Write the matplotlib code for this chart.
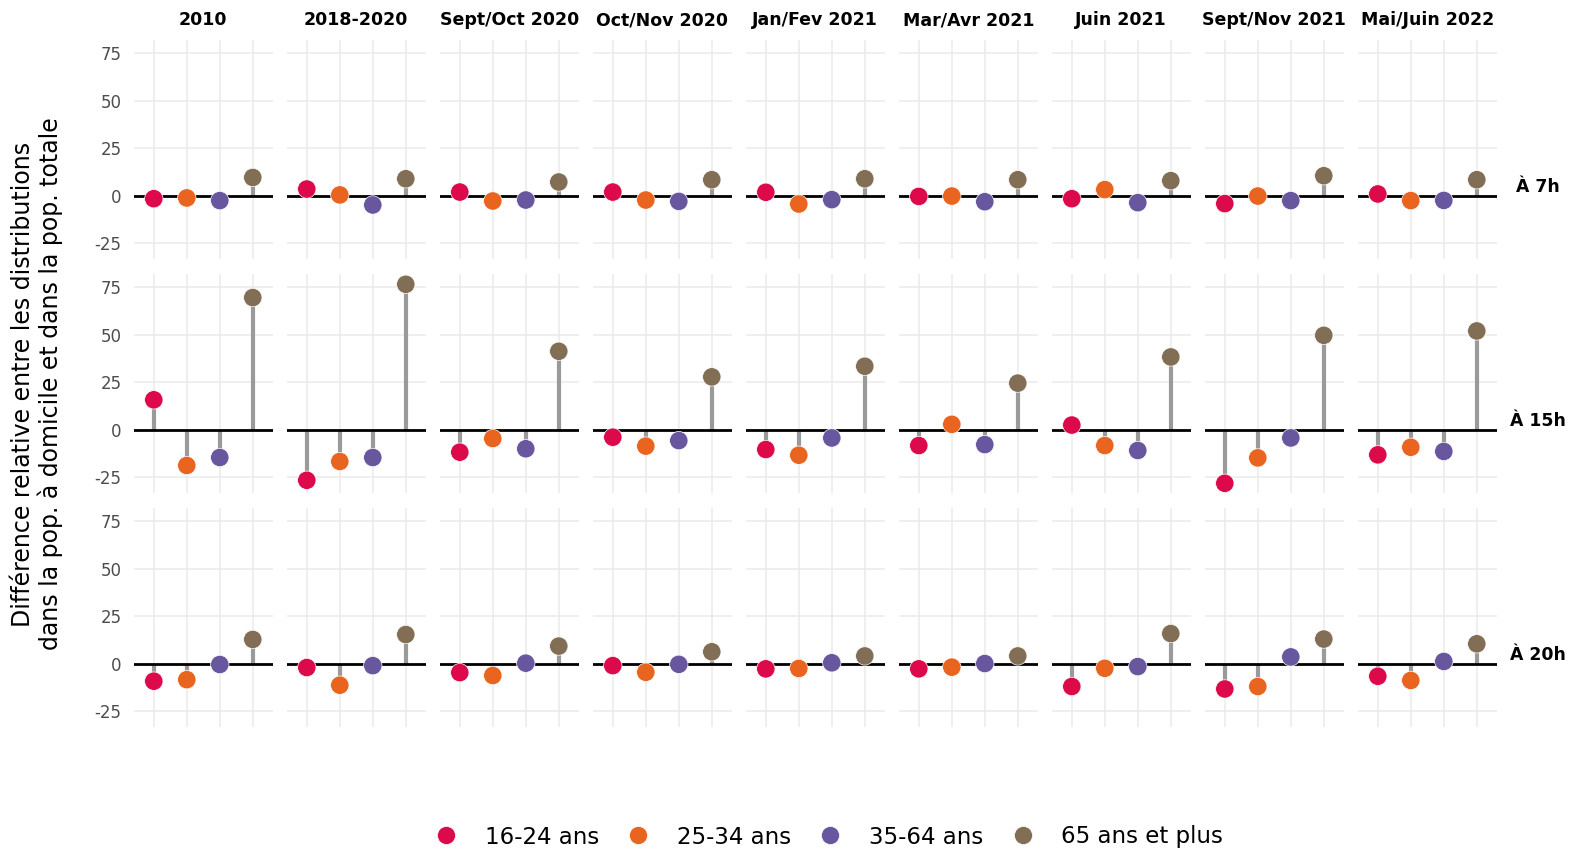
#!/usr/bin/env python3
"""
Lollipop facets: relative difference between age distributions of the
population at home and the total population, by period and time of day.
Output: out.png
"""

import matplotlib
matplotlib.use("Agg")
import matplotlib.pyplot as plt
from matplotlib.lines import Line2D
from matplotlib.transforms import blended_transform_factory

plt.rcParams["axes.unicode_minus"] = False

PERIODS = [
    "2010",
    "2018-2020",
    "Sept/Oct 2020",
    "Oct/Nov 2020",
    "Jan/Fev 2021",
    "Mar/Avr 2021",
    "Juin 2021",
    "Sept/Nov 2021",
    "Mai/Juin 2022",
]
AGES   = ["16-24 ans", "25-34 ans", "35-64 ans", "65 ans et plus"]
COLORS = ["#DC0A4B", "#E9641E", "#68569F", "#826E55"]
HOURS  = ["À 7h", "À 15h", "À 20h"]

# one row per period: [16-24, 25-34, 35-64, 65+]
VALUES_7H = [
    [-1.6, -1.2, -2.6,  9.6],
    [ 3.5,  0.4, -4.9,  8.9],
    [ 1.9, -2.8, -2.3,  7.2],
    [ 1.9, -2.3, -3.0,  8.4],
    [ 1.8, -4.4, -2.1,  8.9],
    [-0.4, -0.2, -3.2,  8.4],
    [-1.6,  3.2, -3.7,  7.9],
    [-4.2, -0.2, -2.6, 10.5],
    [ 0.9, -2.6, -2.5,  8.4],
]
VALUES_15H = [
    [ 15.7, -18.9, -14.7, 69.6],
    [-26.7, -16.8, -14.7, 76.6],
    [-11.9,  -4.7, -10.1, 41.3],
    [ -4.0,  -8.7,  -5.8, 27.8],
    [-10.5, -13.5,  -4.4, 33.4],
    [ -8.4,   2.8,  -7.9, 24.5],
    [  2.4,  -8.4, -11.0, 38.3],
    [-28.3, -14.9,  -4.4, 49.7],
    [-13.3,  -9.3, -11.5, 52.0],
]
VALUES_20H = [
    [ -9.3,  -8.5, -0.5, 12.7],
    [ -2.1, -11.4, -1.1, 15.3],
    [ -4.8,  -6.3,  0.2,  9.2],
    [ -1.1,  -4.6, -0.4,  6.2],
    [ -2.8,  -2.6,  0.4,  4.0],
    [ -2.8,  -1.9,  0.0,  4.0],
    [-12.1,  -2.5, -1.6, 15.8],
    [-13.4, -12.1,  3.5, 12.9],
    [ -6.7,  -8.9,  1.1, 10.4],
]
ALL_VALUES = [VALUES_7H, VALUES_15H, VALUES_20H]

W, H = 1569, 851
fig, axes = plt.subplots(
    3, 9, figsize=(W / 100, H / 100), dpi=100, sharey=True,
    gridspec_kw=dict(left=134 / W, right=1496.6 / W,
                     top=1 - 40.3 / H, bottom=1 - 727.1 / H,
                     wspace=0.104, hspace=0.0686),
)

xs = [1, 2, 3, 4]
for r, vals in enumerate(ALL_VALUES):
    for c, period in enumerate(PERIODS):
        ax = axes[r][c]
        v = vals[c]
        ax.vlines(xs, 0, v, color="#9A9A9A", lw=3.0, zorder=2)
        ax.axhline(0, color="black", lw=2.0, zorder=3)
        ax.scatter(xs, v, s=175, c=COLORS, edgecolors="white",
                   linewidths=0.5, zorder=4)
        ax.set_xlim(0.4, 4.6)
        ax.set_ylim(-33.5, 81.9)
        ax.set_xticks(xs)
        ax.set_yticks([-25, 0, 25, 50, 75])
        ax.grid(True, color="#EBEBEB", lw=1.1)
        ax.set_axisbelow(True)
        ax.tick_params(length=0, labelbottom=False, labelsize=12,
                       labelcolor="#4D4D4D", pad=9)
        for s in ax.spines.values():
            s.set_visible(False)
        if r == 0:
            ax.text(0.5, 1 + 20 / 218.8, period, transform=ax.transAxes,
                    ha="center", va="center", fontsize=12.5, fontweight="bold")

    # row label on the right, a bit above the zero line
    tr = blended_transform_factory(fig.transFigure, axes[r][-1].transData)
    fig.text(1538 / W, 4.7, HOURS[r], transform=tr, ha="center", va="center",
             fontsize=12.4, fontweight="bold")

fig.text(37 / W, 1 - 384 / H,
         "Différence relative entre les distributions\n"
         "dans la pop. à domicile et dans la pop. totale",
         rotation=90, ha="center", va="center", fontsize=17, linespacing=1.1)

handles = [Line2D([], [], marker="o", ls="", markersize=13,
                  markerfacecolor=col, markeredgecolor="white",
                  markeredgewidth=0.5) for col in COLORS]
fig.legend(handles, AGES, loc="center", bbox_to_anchor=(829 / W, 1 - 837 / H),
           ncol=4, frameon=False, fontsize=16.5, handlelength=1.0,
           handletextpad=1.2, columnspacing=1.2, borderpad=0, borderaxespad=0)

fig.savefig("out.png", dpi=100)
